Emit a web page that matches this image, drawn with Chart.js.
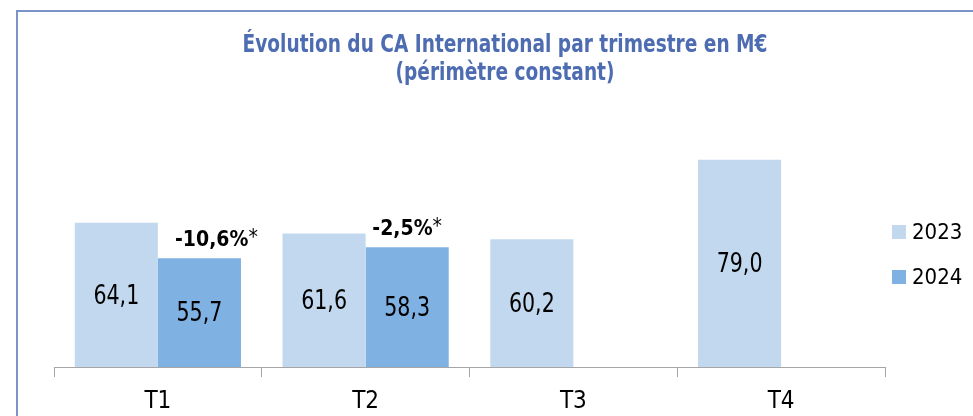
<!DOCTYPE html>
<html lang="fr">
  <head>
    <meta charset="UTF-8" />
    <title>Évolution du CA International par trimestre</title>
    <script src="https://cdn.jsdelivr.net/npm/chart.js"></script>
    <style>
      body { margin: 0; background: #fff; }
      .wrap { position: relative; width: 973px; height: 416px; overflow: hidden; }
      .frame {
        position: absolute; left: 16px; top: 10px;
        width: 1100px; height: 500px;
        border: 2px solid #7c93c8;
      }
      #chart { position: absolute; left: 0; top: 0; }
    </style>
  </head>
  <body>
    <div class="wrap">
      <div class="frame"></div>
      <canvas id="chart" width="973" height="416"></canvas>
    </div>

    <script>
      // Données (en M€)
      const categories = ["T1", "T2", "T3", "T4"];
      const seriesLabels = ["2023", "2024"];
      const ca2023 = [64.1, 61.6, 60.2, 79.0];
      const ca2024 = [55.7, 58.3, null, null];
      const evolution = ["-10,6%", "-2,5%", null, null];
      const yMin = 30;
      const yMax = 85;

      const colors = ["#c2d8ee", "#80b1e3"];
      const titleLines = [
        "Évolution du CA International par trimestre en M€",
        "(périmètre constant)",
      ];
      const FONT = "'DejaVu Sans Condensed', 'DejaVu Sans', sans-serif";

      function fmt(v) {
        return v.toFixed(1).replace(".", ",");
      }

      // texte compressé horizontalement (police plus étroite)
      function drawNarrow(ctx, text, x, y, sx) {
        ctx.save();
        ctx.translate(x, y);
        ctx.scale(sx, 1);
        ctx.fillText(text, 0, 0);
        ctx.restore();
      }

      // Titre sur deux lignes
      const titlePlugin = {
        id: "titre",
        afterDraw(chart) {
          const ctx = chart.ctx;
          ctx.save();
          ctx.fillStyle = "#4d6cb1";
          ctx.font = "bold 24px " + FONT;
          ctx.textAlign = "center";
          ctx.textBaseline = "alphabetic";
          drawNarrow(ctx, titleLines[0], 505, 52, 0.86);
          drawNarrow(ctx, titleLines[1], 505, 80, 0.86);
          ctx.restore();
        },
      };

      // Valeurs au centre des barres + variations au-dessus des barres 2024
      const labelsPlugin = {
        id: "etiquettes",
        afterDatasetsDraw(chart) {
          const ctx = chart.ctx;
          const bottom = chart.scales.y.getPixelForValue(yMin);
          ctx.save();
          ctx.fillStyle = "#000";
          ctx.textAlign = "center";
          ctx.textBaseline = "middle";
          ctx.font = "26px " + FONT;
          chart.data.datasets.forEach((ds, i) => {
            chart.getDatasetMeta(i).data.forEach((bar, j) => {
              const v = ds.data[j];
              if (v == null) return;
              drawNarrow(ctx, fmt(v), bar.x, (bar.y + bottom) / 2 + 2, 0.88);
            });
          });

          // variations
          const meta = chart.getDatasetMeta(1);
          const dx = [17, 0, 0, 0];
          evolution.forEach((txt, j) => {
            if (!txt) return;
            const bar = meta.data[j];
            ctx.font = "bold 21px " + FONT;
            const w1 = ctx.measureText(txt).width;
            ctx.font = "21px " + FONT;
            const w2 = ctx.measureText("*").width;
            const x0 = bar.x + dx[j] - (w1 + w2) / 2;
            ctx.textAlign = "left";
            ctx.font = "bold 21px " + FONT;
            ctx.fillText(txt, x0, bar.y - 18);
            ctx.font = "21px " + FONT;
            ctx.fillText("*", x0 + w1, bar.y - 20);
          });
          ctx.restore();
        },
      };

      // Légende à droite
      const legendPlugin = {
        id: "legende",
        afterDraw(chart) {
          const ctx = chart.ctx;
          ctx.save();
          ctx.textAlign = "left";
          ctx.textBaseline = "middle";
          ctx.font = "22px " + FONT;
          chart.data.datasets.forEach((ds, i) => {
            const cy = 232 + i * 45;
            ctx.fillStyle = ds.backgroundColor;
            ctx.fillRect(892, cy - 7, 14, 14);
            ctx.fillStyle = "#000";
            ctx.fillText(ds.label, 912, cy + 1);
          });
          ctx.restore();
        },
      };

      new Chart(document.getElementById("chart"), {
        type: "bar",
        data: {
          labels: categories,
          datasets: [
            {
              label: seriesLabels[0],
              data: ca2023,
              backgroundColor: colors[0],
              categoryPercentage: 0.8,
              barPercentage: 1.0,
            },
            {
              label: seriesLabels[1],
              data: ca2024,
              backgroundColor: colors[1],
              categoryPercentage: 0.8,
              barPercentage: 1.0,
            },
          ],
        },
        options: {
          responsive: false,
          animation: false,
          devicePixelRatio: 1,
          layout: { padding: { left: 54, right: 88, top: 134.5, bottom: 0 } },
          plugins: {
            legend: { display: false },
            title: { display: false },
            tooltip: { enabled: false },
          },
          scales: {
            x: {
              grid: {
                offset: true,
                drawOnChartArea: false,
                tickLength: 10,
                color: "#a6a6a6",
              },
              border: { color: "#a6a6a6", width: 1 },
              ticks: {
                color: "#000",
                padding: 10,
                font: { family: FONT, size: 24 },
              },
              afterFit: (s) => {
                s.height = 49;
              },
            },
            y: { display: false, min: yMin, max: yMax },
          },
        },
        plugins: [titlePlugin, labelsPlugin, legendPlugin],
      });
    </script>
  </body>
</html>
